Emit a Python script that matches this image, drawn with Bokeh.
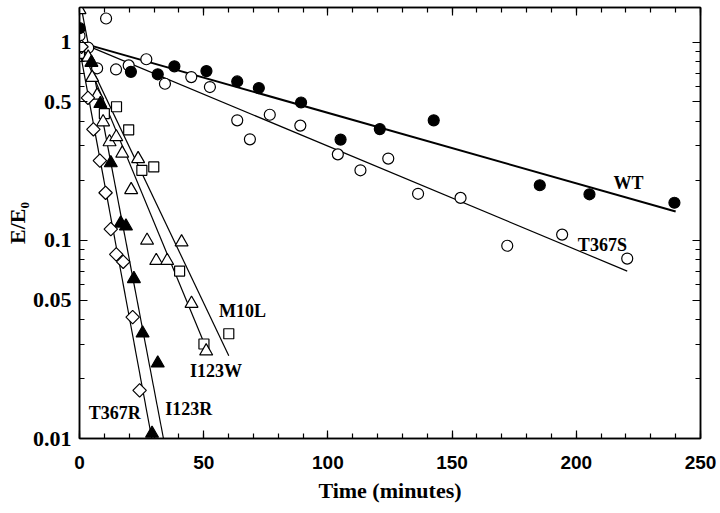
from bokeh.plotting import figure
from bokeh.models import (LogAxis, LinearAxis, FixedTicker, Label, Range1d,
                          CustomJSTickFormatter)
from bokeh.embed import file_html
from bokeh.resources import INLINE

# ---------------- data ----------------
wt_t = [0, 20.7, 31.5, 38.2, 51.1, 63.5, 72.2, 89.2, 105.1, 120.9, 142.6, 185.3, 205.3, 239.5]
wt_y = [1.18, 0.71, 0.69, 0.757, 0.716, 0.635, 0.588, 0.497, 0.323, 0.365, 0.404, 0.19, 0.171, 0.155]

t367s_t = [0, 3.5, 7.1, 10.7, 14.7, 19.8, 26.9, 34.4, 45.0, 52.5, 63.5, 68.6, 76.6, 88.9,
           104.0, 113.1, 124.3, 136.3, 153.4, 172.2, 194.3, 220.5]
t367s_y = [1.08, 0.94, 0.74, 1.32, 0.73, 0.765, 0.822, 0.618, 0.668, 0.595, 0.404, 0.324, 0.431, 0.38,
           0.272, 0.226, 0.259, 0.172, 0.164, 0.094, 0.107, 0.081]

m10l_t = [0, 10.0, 14.9, 19.8, 25.1, 29.9, 40.3, 50.1, 60.1]
m10l_y = [0.88, 0.437, 0.473, 0.362, 0.226, 0.235, 0.07, 0.030, 0.0338]

i123w_t = [0, 3.5, 5.1, 7.1, 9.5, 12.1, 14.8, 17.2, 20.8, 23.6, 27.2, 30.9, 35.3, 41.1, 45.1, 51.0]
i123w_y = [1.46, 0.84, 0.664, 0.54, 0.396, 0.314, 0.333, 0.275, 0.18, 0.258, 0.1, 0.079, 0.079, 0.098, 0.048, 0.0276]

i123r_t = [4.8, 8.4, 12.6, 16.6, 18.7, 21.9, 25.4, 31.5, 29.2]
i123r_y = [0.79, 0.49, 0.246, 0.122, 0.118, 0.064, 0.034, 0.024, 0.0106]

t367r_t = [0.8, 3.4, 5.6, 8.2, 10.5, 12.6, 14.8, 17.6, 21.4, 24.2]
t367r_y = [0.95, 0.525, 0.364, 0.253, 0.174, 0.114, 0.085, 0.078, 0.041, 0.0175]

# fitted exponential decay lines (end points)
wt_fit_t = [0, 240];      wt_fit_y = [1.0, 0.14]
t367s_fit_t = [0, 220.5]; t367s_fit_y = [1.0, 0.07]
m10l_fit_t = [0, 60.1];   m10l_fit_y = [1.0, 0.0262]
i123w_fit_t = [0, 51.4];  i123w_fit_y = [1.0, 0.0278]
i123r_fit_t = [0, 33.8];  i123r_fit_y = [1.67, 0.01]
t367r_fit_t = [0, 29.1];  t367r_fit_y = [0.93, 0.01]

x_major = [0, 50, 100, 150, 200, 250]
x_minor = list(range(0, 251, 10))
y_major = [0.01, 0.05, 0.1, 0.5, 1]
y_minor = [0.02, 0.03, 0.04, 0.06, 0.07, 0.08, 0.09,
           0.2, 0.3, 0.4, 0.6, 0.7, 0.8, 0.9]

series_labels = ["WT", "T367S", "M10L", "I123W", "T367R", "I123R"]
label_t = [221, 210.5, 65.6, 55.0, 14.2, 44.0]
label_y = [0.196, 0.0944, 0.0438, 0.0218, 0.0134, 0.0141]

SERIF = "Liberation Serif"
SANS = "Liberation Sans"

p = figure(width=720, height=513, x_range=Range1d(0, 250), y_range=Range1d(0.01, 1.5),
           y_axis_type="log", output_backend="svg", toolbar_location=None,
           min_border_left=79, min_border_right=20, min_border_top=7, min_border_bottom=75,
           background_fill_color="white", border_fill_color="white")
p.xgrid.visible = False
p.ygrid.visible = False
p.outline_line_color = "black"
p.outline_line_width = 1.5

# main axes
xa = p.xaxis[0]
xa.ticker = FixedTicker(ticks=x_major, minor_ticks=x_minor)
xa.axis_label = "Time (minutes)"
ya = p.yaxis[0]
ya.ticker = FixedTicker(ticks=y_major, minor_ticks=y_minor)
ya.formatter = CustomJSTickFormatter(code="return String(tick);")
ya.axis_label = "E/E\u2080"

for ax in (xa, ya):
    ax.major_tick_in = 8
    ax.major_tick_out = 0
    ax.minor_tick_in = 5
    ax.minor_tick_out = 0
    ax.axis_line_width = 1.5
    ax.major_tick_line_width = 1.2
    ax.minor_tick_line_width = 1.2
    ax.axis_label_text_font = SERIF
    ax.axis_label_text_font_style = "bold"
    ax.axis_label_text_font_size = "22px"
    ax.axis_label_text_color = "black"
    ax.major_label_text_color = "black"
    ax.major_label_text_font_style = "bold"

xa.major_label_text_font = SANS
xa.major_label_text_font_size = "19px"
xa.major_label_standoff = 17
xa.axis_label_standoff = 6

ya.major_label_text_font = SERIF
ya.major_label_text_font_size = "22px"
ya.major_label_standoff = 8
ya.axis_label_standoff = 0

# mirrored tick axes (top, right) without labels
blank = CustomJSTickFormatter(code="return '';")
top = LinearAxis(ticker=FixedTicker(ticks=x_major, minor_ticks=x_minor), formatter=blank)
right = LogAxis(ticker=FixedTicker(ticks=y_major, minor_ticks=y_minor), formatter=blank)
for ax in (top, right):
    ax.major_tick_in = 8
    ax.major_tick_out = 0
    ax.minor_tick_in = 5
    ax.minor_tick_out = 0
    ax.axis_line_width = 1.5
    ax.major_tick_line_width = 1.2
    ax.minor_tick_line_width = 1.2
    ax.major_label_standoff = 0
    ax.axis_label = None
p.add_layout(top, "above")
p.add_layout(right, "right")

# fit lines
p.line(wt_fit_t, wt_fit_y, line_color="black", line_width=2.0)
for ft, fy in [(t367s_fit_t, t367s_fit_y), (m10l_fit_t, m10l_fit_y), (i123w_fit_t, i123w_fit_y),
               (i123r_fit_t, i123r_fit_y), (t367r_fit_t, t367r_fit_y)]:
    p.line(ft, fy, line_color="black", line_width=1.2)

# markers
p.scatter(t367s_t, t367s_y, marker="circle", size=11, fill_color="white", line_color="black", line_width=1.2)
p.scatter(wt_t, wt_y, marker="circle", size=11, fill_color="black", line_color="black", line_width=1.2)
p.scatter(m10l_t, m10l_y, marker="square", size=10, fill_color="white", line_color="black", line_width=1.2)
p.scatter(i123w_t, i123w_y, marker="triangle", size=13, fill_color="white", line_color="black", line_width=1.2)
p.scatter(i123r_t, i123r_y, marker="triangle", size=13, fill_color="black", line_color="black", line_width=1.2)
p.scatter(t367r_t, t367r_y, marker="square", angle=0.7854, size=9.5, fill_color="white",
          line_color="black", line_width=1.2)

for name, lt, ly in zip(series_labels, label_t, label_y):
    p.add_layout(Label(x=lt, y=ly, text=name, text_font=SERIF, text_font_style="bold",
                       text_font_size="18px", text_align="center", text_baseline="middle",
                       text_color="black"))

open("out.html", "w").write(file_html(p, INLINE))
